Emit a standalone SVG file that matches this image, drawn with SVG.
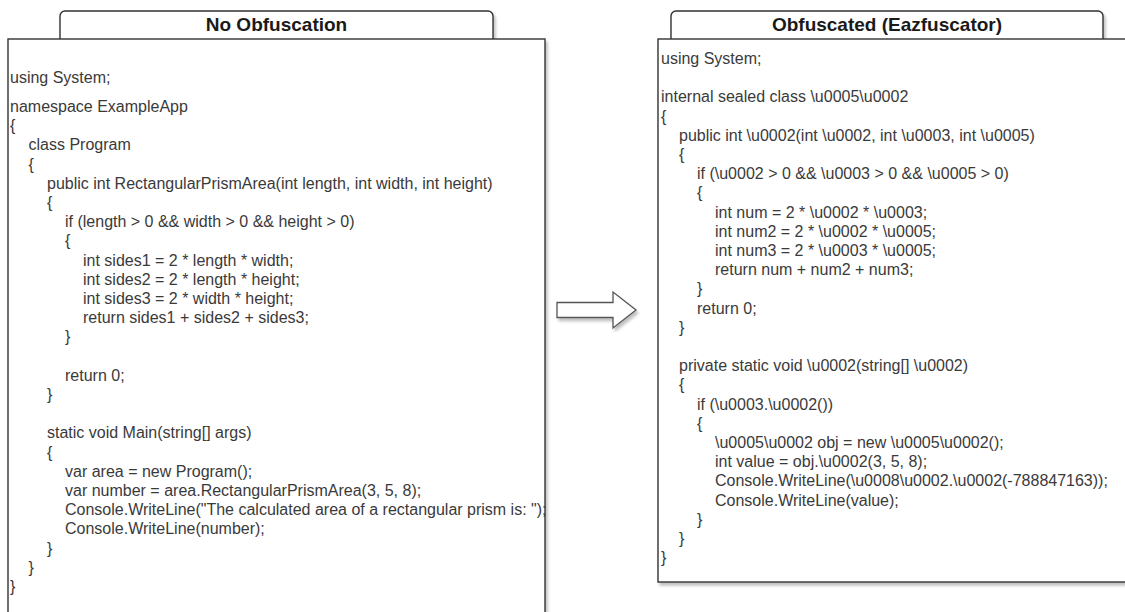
<svg xmlns="http://www.w3.org/2000/svg" width="1125" height="612" viewBox="0 0 1125 612">
  <defs>
    <style>
      .hdr { fill: #ffffff; stroke: #333333; stroke-width: 1.4; }
      .box { fill: #ffffff; stroke: #333333; stroke-width: 1.4; }
      .title { font-family: "Liberation Sans", Arial, Helvetica, sans-serif; font-size: 19px; font-weight: bold; fill: #1a1a1a; text-anchor: middle; }
      .code { font-family: "Liberation Sans", Arial, Helvetica, sans-serif; font-size: 16px; fill: #3a3a3a; }
      .arrow { fill: #ffffff; stroke: #555555; stroke-width: 1.3; stroke-linejoin: miter; }
    </style>
    <filter id="shadow" x="-5%" y="-5%" width="110%" height="115%">
      <feDropShadow dx="2" dy="3" stdDeviation="1.5" flood-color="#000000" flood-opacity="0.25"/>
    </filter>
  </defs>

  <rect width="1125" height="612" fill="#ffffff"/>

  <!-- Left panel: plain source -->
  <g id="plain-header">
    <rect class="hdr" x="60" y="11" width="433" height="36" rx="5" ry="5" filter="url(#shadow)"/>
    <text class="title" x="276.5" y="31">No Obfuscation</text>
  </g>
  <g id="plain-code">
    <rect class="box" x="8" y="39" width="537" height="600" filter="url(#shadow)"/>
    <text class="code" x="10" y="83">using System;</text>
    <text class="code" x="10" y="112">namespace ExampleApp</text>
    <text class="code" x="10" y="131.2">{</text>
    <text class="code" x="28.5" y="150.4">class Program</text>
    <text class="code" x="28.5" y="169.6">{</text>
    <text class="code" x="47" y="188.8">public int RectangularPrismArea(int length, int width, int height)</text>
    <text class="code" x="47" y="208">{</text>
    <text class="code" x="65" y="227.2">if (length &gt; 0 &amp;&amp; width &gt; 0 &amp;&amp; height &gt; 0)</text>
    <text class="code" x="65" y="246.4">{</text>
    <text class="code" x="83" y="265.6">int sides1 = 2 * length * width;</text>
    <text class="code" x="83" y="284.8">int sides2 = 2 * length * height;</text>
    <text class="code" x="83" y="304">int sides3 = 2 * width * height;</text>
    <text class="code" x="83" y="323.2">return sides1 + sides2 + sides3;</text>
    <text class="code" x="65" y="342.4">}</text>
    <text class="code" x="65" y="380.8">return 0;</text>
    <text class="code" x="47" y="400">}</text>
    <text class="code" x="47" y="438.4">static void Main(string[] args)</text>
    <text class="code" x="47" y="457.6">{</text>
    <text class="code" x="65" y="476.8">var area = new Program();</text>
    <text class="code" x="65" y="496">var number = area.RectangularPrismArea(3, 5, 8);</text>
    <text class="code" x="65" y="515.2">Console.WriteLine("The calculated area of a rectangular prism is: ");</text>
    <text class="code" x="65" y="534.4">Console.WriteLine(number);</text>
    <text class="code" x="47" y="553.6">}</text>
    <text class="code" x="28.5" y="572.8">}</text>
    <text class="code" x="10" y="592">}</text>
  </g>

  <!-- Right panel: obfuscated output -->
  <g id="obf-header">
    <rect class="hdr" x="671" y="11" width="432" height="36" rx="5" ry="5" filter="url(#shadow)"/>
    <text class="title" x="887" y="31">Obfuscated (Eazfuscator)</text>
  </g>
  <g id="obf-code">
    <rect class="box" x="658" y="39" width="480" height="543" filter="url(#shadow)"/>
    <text class="code" x="661" y="63.9">using System;</text>
    <text class="code" x="661" y="102.3">internal sealed class \u0005\u0002</text>
    <text class="code" x="661" y="121.5">{</text>
    <text class="code" x="679" y="140.7">public int \u0002(int \u0002, int \u0003, int \u0005)</text>
    <text class="code" x="679" y="159.9">{</text>
    <text class="code" x="697" y="179.1">if (\u0002 &gt; 0 &amp;&amp; \u0003 &gt; 0 &amp;&amp; \u0005 &gt; 0)</text>
    <text class="code" x="697" y="198.3">{</text>
    <text class="code" x="715" y="217.5">int num = 2 * \u0002 * \u0003;</text>
    <text class="code" x="715" y="236.7">int num2 = 2 * \u0002 * \u0005;</text>
    <text class="code" x="715" y="255.9">int num3 = 2 * \u0003 * \u0005;</text>
    <text class="code" x="715" y="275.1">return num + num2 + num3;</text>
    <text class="code" x="697" y="294.3">}</text>
    <text class="code" x="697" y="313.5">return 0;</text>
    <text class="code" x="679" y="332.7">}</text>
    <text class="code" x="679" y="371.1">private static void \u0002(string[] \u0002)</text>
    <text class="code" x="679" y="390.3">{</text>
    <text class="code" x="697" y="409.5">if (\u0003.\u0002())</text>
    <text class="code" x="697" y="428.7">{</text>
    <text class="code" x="715" y="447.9">\u0005\u0002 obj = new \u0005\u0002();</text>
    <text class="code" x="715" y="467.1">int value = obj.\u0002(3, 5, 8);</text>
    <text class="code" x="715" y="486.3">Console.WriteLine(\u0008\u0002.\u0002(-788847163));</text>
    <text class="code" x="715" y="505.5">Console.WriteLine(value);</text>
    <text class="code" x="697" y="524.7">}</text>
    <text class="code" x="679" y="543.9">}</text>
    <text class="code" x="661" y="563.1">}</text>
  </g>

  <!-- Transformation arrow between the panels -->
  <g id="connectors">
    <path class="arrow" d="M557,302.5 L613,302.5 L613,292 L636,310 L613,328 L613,317.5 L557,317.5 Z" filter="url(#shadow)"/>
  </g>
</svg>
